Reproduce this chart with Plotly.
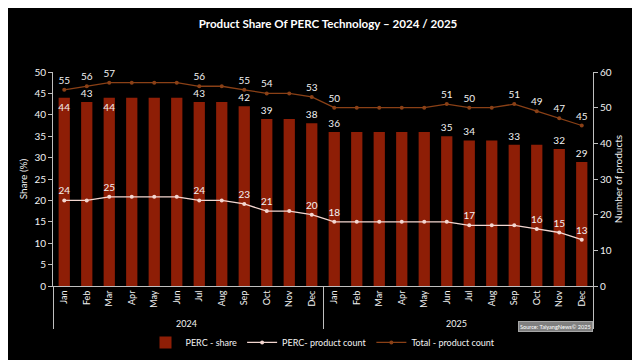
import plotly.graph_objects as go

months = ["Jan", "Feb", "Mar", "Apr", "May", "Jun", "Jul", "Aug", "Sep", "Oct", "Nov", "Dec"]
years = ["2024"] * 12 + ["2025"] * 12
month_labels = months * 2

perc_share = [44, 43, 44, 44, 44, 44, 43, 43, 42, 39, 39, 38,
              36, 36, 36, 36, 36, 35, 34, 34, 33, 33, 32, 29]
perc_share_labels = ["44", "43", "44", "", "", "", "43", "", "42", "39", "", "38",
                     "36", "", "", "", "", "35", "34", "", "33", "", "32", "29"]
perc_share_label_pos = ["inside", "outside", "inside"] + ["outside"] * 21

perc_count = [24, 24, 25, 25, 25, 25, 24, 24, 23, 21, 21, 20,
              18, 18, 18, 18, 18, 18, 17, 17, 17, 16, 15, 13]
perc_count_labels = ["24", "", "25", "", "", "", "24", "", "23", "21", "", "20",
                     "18", "", "", "", "", "", "17", "", "", "16", "15", "13"]

total_count = [55, 56, 57, 57, 57, 57, 56, 56, 55, 54, 54, 53,
               50, 50, 50, 50, 50, 51, 50, 50, 51, 49, 47, 45]
total_count_labels = ["55", "56", "57", "", "", "", "56", "", "55", "54", "", "53",
                      "50", "", "", "", "", "51", "50", "", "51", "49", "47", "45"]

x = [years, month_labels]
FONT = "Lato"
TXT = "#f2f2f2"

fig = go.Figure()
fig.add_trace(go.Bar(
    x=x, y=perc_share, name="PERC - share",
    marker=dict(color="#8e1e06", line=dict(width=0)),
    text=perc_share_labels, textposition=perc_share_label_pos, cliponaxis=False,
    insidetextanchor="end", constraintext="none", textangle=0,
    textfont=dict(color=TXT, size=10, family=FONT),
    insidetextfont=dict(color=TXT, size=10, family=FONT),
    outsidetextfont=dict(color=TXT, size=10, family=FONT),
))
fig.add_trace(go.Scatter(
    x=x, y=perc_count, name="PERC- product count", yaxis="y2",
    mode="lines+markers+text",
    line=dict(color="#f3d6d0", width=1.3),
    marker=dict(color="#f3d6d0", size=4),
    text=perc_count_labels, textposition="top center",
    textfont=dict(color=TXT, size=10, family=FONT), cliponaxis=False,
))
fig.add_trace(go.Scatter(
    x=x, y=total_count, name="Total - product count", yaxis="y2",
    mode="lines+markers+text",
    line=dict(color="#8a4016", width=1.3),
    marker=dict(color="#8a4016", size=4),
    text=total_count_labels, textposition="top center",
    textfont=dict(color=TXT, size=10, family=FONT), cliponaxis=False,
))

fig.update_layout(
    width=640, height=360,
    paper_bgcolor="#000000", plot_bgcolor="#000000",
    font=dict(family=FONT, color=TXT, size=10),
    margin=dict(l=45, r=55, t=64, b=82, autoexpand=False),
    title=dict(text="<b>Product Share Of PERC Technology – 2024 / 2025</b>",
               x=0.5, xanchor="center", y=0.955, yanchor="middle",
               font=dict(size=11.6, color="#ffffff", family=FONT)),
    bargap=0.5,
    showlegend=True,
    legend=dict(orientation="h", x=0.5, xanchor="center", y=-0.196, yanchor="top",
                font=dict(size=9, color=TXT, family=FONT), bgcolor="rgba(0,0,0,0)",
                itemwidth=30, tracegroupgap=0),
    xaxis=dict(type="multicategory", tickangle=-90, showline=True, linecolor="#bfbfbf",
               linewidth=1, showdividers=True, dividercolor="#bfbfbf", dividerwidth=1,
               tickfont=dict(size=9, color=TXT, family=FONT), showgrid=False,
               automargin=False, range=[-0.5, 23.5], autorange=False),
    yaxis=dict(range=[0, 50], dtick=5, showgrid=False, zeroline=False, showline=True,
               linecolor="#bfbfbf", ticks="outside", ticklen=4, tickcolor="#bfbfbf",
               title=dict(text="Share (%)", font=dict(size=10, color=TXT), standoff=4),
               tickfont=dict(size=10, color=TXT), automargin=False),
    yaxis2=dict(range=[0, 60], dtick=10, overlaying="y", side="right", showgrid=False,
                zeroline=False, showline=True, linecolor="#bfbfbf", ticks="outside",
                ticklen=4, tickcolor="#bfbfbf",
                title=dict(text="Number of products", font=dict(size=10, color=TXT), standoff=4),
                tickfont=dict(size=10, color=TXT), automargin=False),
    annotations=[dict(
        text="Source: TaiyangNews© 2025", xref="paper", yref="paper",
        x=1.0, y=-0.165, xanchor="right", yanchor="top", showarrow=False,
        font=dict(size=5.6, color="#ffffff", family=FONT),
        bgcolor="#7f7f7f", bordercolor="#a6a6a6", borderwidth=1, borderpad=1,
    )],
)

fig.write_html("out.html")
